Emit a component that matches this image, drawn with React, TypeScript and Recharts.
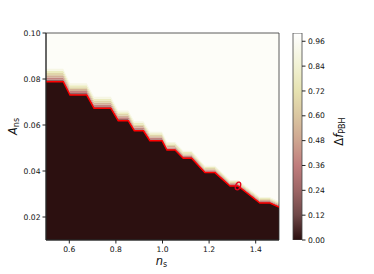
import {
  Area,
  Bar,
  BarChart,
  CartesianGrid,
  ComposedChart,
  Label,
  Line,
  ReferenceArea,
  Scatter,
  XAxis,
  YAxis,
} from "recharts";

// n_s positions of the corners of the stepped boundary
const nsGrid = [
  0.5, 0.574, 0.603, 0.675, 0.706, 0.778, 0.81, 0.853, 0.879, 0.918, 0.946, 0.998,
  1.019, 1.054, 1.089, 1.125, 1.182, 1.225, 1.29, 1.324, 1.418, 1.461, 1.5,
];
// A_ns of the red contour (top of the dark region)
const edgeAns = [
  0.0788, 0.0788, 0.073, 0.073, 0.0673, 0.0673, 0.0619, 0.0619, 0.0575, 0.0575, 0.0532,
  0.0532, 0.0491, 0.0491, 0.0455, 0.0455, 0.0393, 0.0393, 0.0335, 0.0335, 0.0261, 0.0261,
  0.0243,
];
// thickness of the colour transition above the contour
const fadeWidth = [
  0.0057, 0.0057, 0.0052, 0.0052, 0.005, 0.005, 0.0044, 0.0044, 0.0041, 0.0041, 0.0039,
  0.0039, 0.0035, 0.0035, 0.0033, 0.0033, 0.003, 0.003, 0.0026, 0.0026, 0.0026, 0.0026,
  0.0024,
];

const markerNs = [1.324];
const markerAns = [0.0335];

const xTicks = [0.6, 0.8, 1.0, 1.2, 1.4];
const yTicks = [0.02, 0.04, 0.06, 0.08, 0.1];
const cbTicks = [0, 0.12, 0.24, 0.36, 0.48, 0.6, 0.72, 0.84, 0.96];

// matplotlib "pink"-ish colours
const darkFill = "#2c1010";
const fadeColors = ["#966262", "#c38480", "#d2b196", "#e0d5a9", "#ebebbf", "#f6f6e4"];
const cbStops = [
  { t: 0, c: "#2a0e0e" },
  { t: 0.12, c: "#6f4848" },
  { t: 0.24, c: "#9d6666" },
  { t: 0.36, c: "#c07d7d" },
  { t: 0.48, c: "#cea590" },
  { t: 0.6, c: "#dac6a1" },
  { t: 0.72, c: "#e6e2b1" },
  { t: 0.84, c: "#f1f1d3" },
  { t: 0.96, c: "#fbfbf5" },
  { t: 1, c: "#ffffff" },
];

const table = nsGrid.map((ns, i) => {
  const row: Record<string, number> = { ns, edge: edgeAns[i] };
  fadeColors.forEach((_, k) => {
    row[`f${k}`] = fadeWidth[i] / fadeColors.length;
  });
  return row;
});
const markers = markerNs.map((ns, i) => ({ ns, edge: markerAns[i] }));
const cbData = [{ name: "cb", v: 1 }];

const axisColor = "#222";
const tickStyle = { fontSize: 7.6, fill: "#111" };

function YTitle(props: any) {
  const vb = props.viewBox || { x: 0, y: 33, width: 46, height: 207 };
  const x = vb.x + 12.5;
  const y = vb.y + vb.height / 2 - 10;
  return (
    <text x={x} y={y} transform={`rotate(-90 ${x} ${y})`} textAnchor="middle" dominantBaseline="central" fill="#111">
      <tspan fontSize={11.5} fontStyle="italic">A</tspan>
      <tspan fontSize={8} dy={3}>ns</tspan>
    </text>
  );
}

function XTitle(props: any) {
  const vb = props.viewBox || { x: 46, y: 240, width: 233, height: 30 };
  const x = vb.x + vb.width / 2 - 1;
  const y = vb.y + 24.5;
  return (
    <text x={x} y={y} textAnchor="middle" fill="#111">
      <tspan fontSize={11.5} fontStyle="italic">n</tspan>
      <tspan fontSize={8} dy={2.5}>s</tspan>
    </text>
  );
}

function CbTitle(props: any) {
  const vb = props.viewBox || { x: 17, y: 33, width: 72, height: 207 };
  const x = vb.x + 37;
  const y = vb.y + vb.height / 2 - 5;
  return (
    <text x={x} y={y} transform={`rotate(-90 ${x} ${y})`} textAnchor="middle" dominantBaseline="central" fill="#111">
      <tspan fontSize={11.5}>Δ</tspan>
      <tspan fontSize={11.5} fontStyle="italic">f</tspan>
      <tspan fontSize={8} dy={3}>PBH</tspan>
    </text>
  );
}

const Ring = (p: any) => (
  <ellipse
    cx={p.cx}
    cy={p.cy}
    rx={2.4}
    ry={4}
    fill="none"
    stroke="#e8001a"
    strokeWidth={1.3}
    transform={`rotate(20 ${p.cx} ${p.cy})`}
  />
);

export default function App() {
  return (
    <div
      style={{
        position: "absolute",
        left: 0,
        top: 0,
        width: 374,
        height: 274,
        background: "#fff",
        fontFamily: '"DejaVu Sans", sans-serif',
      }}
    >
      <div style={{ position: "absolute", left: 0, top: 0 }}>
        <ComposedChart width={374} height={274} data={table} margin={{ top: 33, right: 95, bottom: 4, left: 0 }}>
          <CartesianGrid horizontal={false} vertical={false} fill="#fdfdf8" />
          <XAxis
            dataKey="ns"
            type="number"
            domain={[0.5, 1.5]}
            allowDataOverflow
            ticks={xTicks}
            tickFormatter={(v: number) => v.toFixed(1)}
            height={30}
            tickSize={3.5}
            tickMargin={3.5}
            tick={tickStyle}
            stroke={axisColor}
          >
            <Label content={XTitle} />
          </XAxis>
          <YAxis
            type="number"
            domain={[0.01, 0.1]}
            allowDataOverflow
            ticks={yTicks}
            tickFormatter={(v: number) => v.toFixed(2)}
            width={46}
            tickSize={3.5}
            tickMargin={2}
            tick={tickStyle}
            stroke={axisColor}
          >
            <Label content={YTitle} />
          </YAxis>
          <Area
            type="linear"
            dataKey="edge"
            stackId="s"
            fill={darkFill}
            fillOpacity={1}
            stroke="none"
            isAnimationActive={false}
          />
          {fadeColors.map((c, k) => (
            <Area
              key={c}
              type="linear"
              dataKey={`f${k}`}
              stackId="s"
              fill={c}
              fillOpacity={1}
              stroke="none"
              isAnimationActive={false}
            />
          ))}
          <Line
            type="linear"
            dataKey="edge"
            stroke="#ff0000"
            strokeWidth={1.5}
            dot={false}
            isAnimationActive={false}
          />
          <Scatter data={markers} dataKey="edge" shape={Ring} isAnimationActive={false} />
          <ReferenceArea x1={0.5} x2={1.5} y1={0.01} y2={0.1} fill="none" stroke="#333" strokeWidth={0.8} />
        </ComposedChart>
      </div>
      <div style={{ position: "absolute", left: 285, top: 0 }}>
        <BarChart
          width={89}
          height={274}
          data={cbData}
          margin={{ top: 33, right: 0, bottom: 34, left: 8 }}
          barCategoryGap={0}
        >
          <defs>
            <linearGradient id="pinkBar" x1="0" y1="1" x2="0" y2="0">
              {cbStops.map((s) => (
                <stop key={s.t} offset={s.t} stopColor={s.c} />
              ))}
            </linearGradient>
          </defs>
          <XAxis dataKey="name" hide />
          <YAxis
            orientation="right"
            type="number"
            domain={[0, 1]}
            allowDataOverflow
            ticks={cbTicks}
            tickFormatter={(v: number) => v.toFixed(2)}
            width={72}
            tickSize={3.5}
            tickMargin={2.5}
            tick={tickStyle}
            stroke={axisColor}
            axisLine={false}
          >
            <Label content={CbTitle} />
          </YAxis>
          <Bar dataKey="v" fill="url(#pinkBar)" stroke="#444" strokeWidth={0.8} isAnimationActive={false} />
        </BarChart>
      </div>
    </div>
  );
}
